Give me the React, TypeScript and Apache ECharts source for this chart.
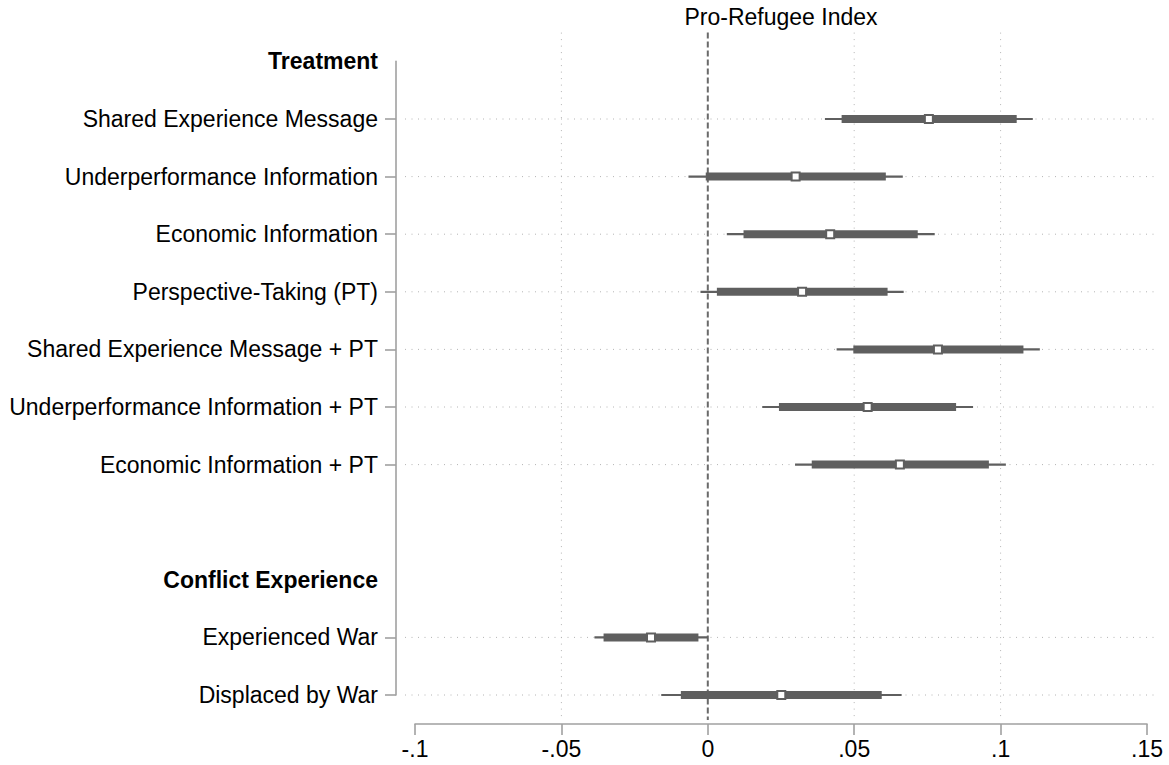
import React, { useEffect, useRef } from "react";
import * as echarts from "echarts";

// Rows of the coefficient plot, top to bottom ("" is a spacer row)
const categories = [
  "Treatment",
  "Shared Experience Message",
  "Underperformance Information",
  "Economic Information",
  "Perspective-Taking (PT)",
  "Shared Experience Message + PT",
  "Underperformance Information + PT",
  "Economic Information + PT",
  "",
  "Conflict Experience",
  "Experienced War",
  "Displaced by War",
];
const headers = ["Treatment", "Conflict Experience"];

// Point estimates and confidence intervals (narrow = thick bar, wide = thin line)
const coef = [null, 0.0755, 0.030, 0.0418, 0.0322, 0.0786, 0.0546, 0.0656, null, null, -0.0194, 0.0251];
const narrowLo = [null, 0.0457, -0.0007, 0.0122, 0.0031, 0.0497, 0.0243, 0.0355, null, null, -0.0356, -0.0092];
const narrowHi = [null, 0.1055, 0.0608, 0.0717, 0.0614, 0.1078, 0.0848, 0.0960, null, null, -0.0032, 0.0594];
const wideLo = [null, 0.040, -0.0066, 0.0065, -0.0025, 0.044, 0.0186, 0.0298, null, null, -0.0387, -0.0159];
const wideHi = [null, 0.111, 0.0666, 0.0775, 0.0669, 0.1134, 0.0906, 0.1018, null, null, 0.0, 0.0662];

// x axis
const xMin = -0.1;
const xMax = 0.15;
const xStep = 0.05;
const xGridValues = [-0.05, 0.05, 0.1];
const refValue = 0;
const titleText = "Pro-Refugee Index";

const FONT = "'Liberation Sans', Arial, Helvetica, sans-serif";
const MARK = "#5f5f5f";
const AXIS = "#a0a0a0";
const GRID = "#b4b4b4";

function fmtTick(v: number): string {
  const r = Math.round(v * 100) / 100;
  if (r === 0) return "0";
  return String(r).replace("0.", ".");
}

export default function App() {
  const ref = useRef<HTMLDivElement>(null);

  useEffect(() => {
    if (!ref.current) return;
    const chart = echarts.init(ref.current, undefined, { renderer: "svg" });
    const lastRow = categories.length - 1;

    const estData = categories
      .map((_, i) =>
        coef[i] == null
          ? null
          : [coef[i], i, narrowLo[i], narrowHi[i], wideLo[i], wideHi[i]]
      )
      .filter((d) => d !== null);

    const hRows = categories
      .map((c, i) => (c !== "" && headers.indexOf(c) < 0 ? [xMin, i] : null))
      .filter((d) => d !== null);

    const rowSpan = (api: any, x: number) => {
      const top = api.coord([x, 0]);
      const bot = api.coord([x, lastRow]);
      const h = (bot[1] - top[1]) / lastRow;
      return { x: top[0], y1: top[1] - 0.5 * h, y2: bot[1] + 0.4 * h };
    };

    chart.setOption({
      animation: false,
      backgroundColor: "#fff",
      textStyle: { fontFamily: FONT },
      grid: { left: 415, right: 22, top: 61.4, bottom: 70, containLabel: false },
      xAxis: {
        type: "value",
        min: xMin,
        max: xMax,
        interval: xStep,
        offset: 29,
        axisLine: { show: true, onZero: false, lineStyle: { color: AXIS, width: 1.6 } },
        axisTick: { show: true, length: 11, lineStyle: { color: AXIS, width: 1.6 } },
        axisLabel: {
          fontSize: 23,
          color: "#000",
          margin: 13,
          fontFamily: FONT,
          formatter: (v: number) => fmtTick(v),
        },
        splitLine: { show: false },
      },
      yAxis: {
        type: "category",
        data: categories,
        inverse: true,
        boundaryGap: false,
        offset: 19,
        axisLine: { show: true, onZero: false, lineStyle: { color: AXIS, width: 1.6 } },
        axisTick: {
          show: true,
          length: 11,
          interval: (i: number, v: string) => v !== "" && headers.indexOf(v) < 0,
          lineStyle: { color: AXIS, width: 1.6 },
        },
        axisLabel: {
          interval: 0,
          fontSize: 23,
          color: "#000",
          margin: 18,
          fontFamily: FONT,
          formatter: (v: string) => (headers.indexOf(v) >= 0 ? "{h|" + v + "}" : v),
          rich: {
            h: { fontSize: 23, fontWeight: "bold", color: "#000", fontFamily: FONT },
          },
        },
        splitLine: { show: false },
      },
      series: [
        {
          // vertical dotted grid lines
          type: "custom",
          clip: false,
          z: 1,
          data: xGridValues.map((v) => [v, 0]),
          encode: { x: 0, y: 1 },
          renderItem: (params: any, api: any) => {
            const s = rowSpan(api, api.value(0));
            return {
              type: "line",
              shape: { x1: s.x, y1: s.y1, x2: s.x, y2: s.y2 },
              style: { stroke: GRID, lineWidth: 1, lineDash: [1, 5.5] },
            };
          },
        },
        {
          // horizontal dotted grid lines at estimate rows
          type: "custom",
          clip: false,
          z: 1,
          data: hRows,
          encode: { x: 0, y: 1 },
          renderItem: (params: any, api: any) => {
            const p0 = api.coord([xMin, api.value(1)]);
            const p1 = api.coord([xMax, api.value(1)]);
            return {
              type: "line",
              shape: { x1: p0[0] - 10, y1: p0[1], x2: p1[0] + 10, y2: p1[1] },
              style: { stroke: GRID, lineWidth: 1, lineDash: [1, 5.5] },
            };
          },
        },
        {
          // dashed reference line at zero
          type: "custom",
          clip: false,
          z: 2,
          data: [[refValue, 0]],
          encode: { x: 0, y: 1 },
          renderItem: (params: any, api: any) => {
            const s = rowSpan(api, api.value(0));
            return {
              type: "line",
              shape: { x1: s.x, y1: s.y1, x2: s.x, y2: s.y2 + 2 },
              style: { stroke: "#6a6a6a", lineWidth: 2, lineDash: [6, 3] },
            };
          },
        },
        {
          // estimates with confidence intervals
          type: "custom",
          clip: false,
          z: 5,
          data: estData,
          encode: { x: [0, 2, 3, 4, 5], y: 1 },
          renderItem: (params: any, api: any) => {
            const row = api.value(1);
            const pt = api.coord([api.value(0), row]);
            const nLo = api.coord([api.value(2), row]);
            const nHi = api.coord([api.value(3), row]);
            const wLo = api.coord([api.value(4), row]);
            const wHi = api.coord([api.value(5), row]);
            const cy = pt[1];
            return {
              type: "group",
              children: [
                {
                  type: "line",
                  shape: { x1: wLo[0], y1: cy, x2: wHi[0], y2: cy },
                  style: { stroke: MARK, lineWidth: 2.2 },
                },
                {
                  type: "rect",
                  shape: { x: nLo[0], y: cy - 4, width: nHi[0] - nLo[0], height: 8 },
                  style: { fill: MARK },
                },
                {
                  type: "rect",
                  shape: { x: pt[0] - 4, y: cy - 4, width: 8, height: 8 },
                  style: { fill: "#fff", stroke: MARK, lineWidth: 2 },
                },
              ],
            };
          },
        },
      ],
    });

    // title centred over the plotting range
    const cx = chart.convertToPixel({ xAxisIndex: 0 }, (xMin + xMax) / 2) as number;
    chart.setOption({
      graphic: [
        {
          type: "text",
          x: cx,
          y: 17,
          style: {
            text: titleText,
            fill: "#000",
            font: "23px " + FONT,
            align: "center",
            verticalAlign: "middle",
          },
        },
      ],
    });

    return () => chart.dispose();
  }, []);

  return (
    <div
      ref={ref}
      style={{ position: "fixed", left: 0, top: 0, width: 1169, height: 765, background: "#fff" }}
    />
  );
}
